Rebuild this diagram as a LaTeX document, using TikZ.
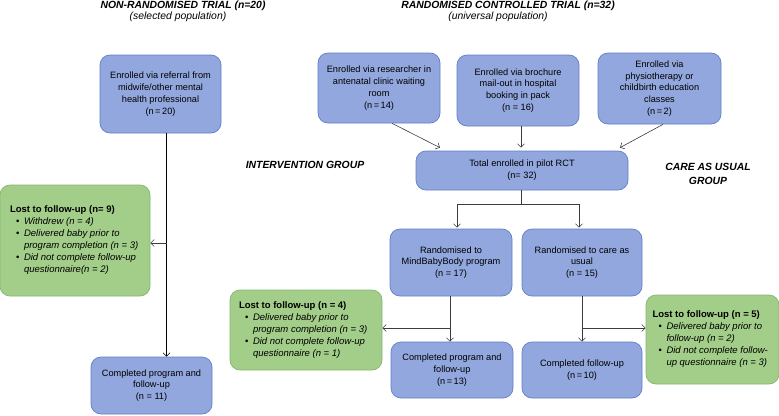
\documentclass[tikz,border=0pt]{standalone}
\usepackage{fontspec}
\setmainfont{Liberation Sans}
\usetikzlibrary{arrows.meta}
\definecolor{bfill}{RGB}{146,167,222}
\definecolor{bdraw}{RGB}{98,126,200}
\definecolor{gfill}{RGB}{163,206,138}
\definecolor{gdraw}{RGB}{132,182,108}
\definecolor{lncol}{RGB}{60,60,60}
\newcommand\blt[1]{\par{\leftskip=14pt\noindent\llap{\textbullet\hspace{4.5pt}}\textit{#1}\par}}
\begin{document}
\begin{tikzpicture}[x=1pt,y=-1pt,
  font=\fontsize{9.2}{11.8}\selectfont,
  bluebox/.style={draw=bdraw, fill=bfill, rounded corners=10pt, align=center, inner sep=0pt, line width=0.7pt},
  greenbox/.style={draw=gdraw, fill=gfill, rounded corners=10pt, inner sep=0pt, line width=0.7pt, font=\fontsize{9.5}{12}\selectfont},
  arr/.style={draw=lncol, line width=0.6pt, -{Straight Barb[length=3.5pt,width=7pt]}},
  ln/.style={draw=lncol, line width=0.6pt},
  ttl/.style={font=\fontsize{10.4}{12}\selectfont\bfseries\itshape, inner sep=0pt},
  sub/.style={font=\fontsize{10.4}{12}\selectfont\itshape, inner sep=0pt}]
\useasboundingbox (0,0) rectangle (779,415);

% titles
\node[ttl] (t1) at (183,5.5) {NON-RANDOMISED TRIAL (n=20)};
\node[sub] (s1) at (178,17) {(selected population)};
\node[ttl] (t2) at (508,5.5) {RANDOMISED CONTROLLED TRIAL (n=32)};
\node[sub] (s2) at (498,17) {(universal population)};
\node[ttl] (ig) at (305,165) {INTERVENTION GROUP};
\node[ttl, align=center, font=\fontsize{10.4}{14}\selectfont\bfseries\itshape] (cg) at (708,174) {CARE AS USUAL\\GROUP};

% non-randomised
\node[bluebox, minimum width=121pt, minimum height=78pt] (nr) at (160.5,94)
  {Enrolled via referral from\\midwife/other mental\\health professional\\(n\,=\,20)};
\node[bluebox, minimum width=121pt, minimum height=57pt] (nc) at (151.5,385.5)
  {Completed program and\\follow-up\\(n = 11)};
\node[greenbox, minimum width=150pt, minimum height=111pt] (l9) at (75,240.5)
  {\parbox{130pt}{\raggedright\textbf{Lost to follow-up (n= 9)}
   \blt{Withdrew (n = 4)}
   \blt{Delivered baby prior to\\program completion (n = 3)}
   \blt{Did not complete follow-up\\questionnaire(n = 2)}}};
\coordinate (v1) at (166.5,0);
\draw[arr, draw=black] (nr.south -| v1) -- (nc.north -| v1);
\coordinate (h9) at (166.5,243);
\draw[arr] (h9) -- (h9 -| l9.east);

% RCT top
\node[bluebox, minimum width=122pt, minimum height=70pt] (r1) at (379,88)
  {Enrolled via researcher in\\antenatal clinic waiting\\room\\(n\,=\,14)};
\node[bluebox, minimum width=122pt, minimum height=71pt] (r2) at (518,90.5)
  {Enrolled via brochure\\mail-out in hospital\\booking in pack\\(n = 16)};
\node[bluebox, minimum width=123pt, minimum height=71pt] (r3) at (659.5,88.5)
  {Enrolled via\\physiotherapy or\\childbirth education\\classes\\(n\,=\,2)};
\node[bluebox, minimum width=212pt, minimum height=39pt] (tot) at (522,170.5)
  {Total enrolled in pilot RCT\\(n= 32)};
\draw[arr] ([xshift=13pt]r1.south) -- ([xshift=-82pt,yshift=3pt]tot.north);
\draw[arr] (r2.south -| 521,0) -- ([xshift=-1pt,yshift=3pt]tot.north);
\draw[arr] ([xshift=3.5pt]r3.south) -- ([xshift=98pt,yshift=3pt]tot.north);

% randomisation
\node[bluebox, minimum width=122pt, minimum height=67pt] (ra) at (451,262.5)
  {Randomised to\\MindBabyBody program\\(n = 17)};
\node[bluebox, minimum width=120pt, minimum height=67pt] (rb) at (582,262.5)
  {Randomised to care as\\usual\\(n = 15)};
\coordinate (sp) at (521,204);
\draw[ln] (tot.south -| sp) -- (sp);
\draw[arr] (sp) -| ([xshift=6pt,yshift=1pt]ra.north);
\draw[arr] (sp) -| ([xshift=-3pt,yshift=1pt]rb.north);

% outcomes
\node[bluebox, minimum width=122pt, minimum height=56pt] (ca) at (452,370)
  {Completed program and\\follow-up\\(n\,=\,13)};
\node[bluebox, minimum width=120pt, minimum height=56pt] (cb) at (582,370)
  {Completed follow-up\\(n\,=\,10)};
\node[greenbox, minimum width=152pt, minimum height=80pt] (l4) at (306,330)
  {\parbox{134pt}{\raggedright\textbf{Lost to follow-up (n = 4)}
   \blt{Delivered baby prior to\\program completion (n = 3)}
   \blt{Did not complete follow-up\\questionnaire (n = 1)}}};
\node[greenbox, minimum width=133pt, minimum height=89pt] (l5) at (712.5,339.5)
  {\parbox{120pt}{\raggedright\textbf{Lost to follow-up (n = 5)}
   \blt{Delivered baby prior to\\follow-up (n = 2)}
   \blt{Did not complete follow-\\up questionnaire (n = 3)}}};
\coordinate (h4) at (450,328);
\draw[arr] (ra.south -| h4) -- (ca.north -| h4);
\draw[arr] (h4) -- (h4 -| l4.east);
\coordinate (h5) at (582,328);
\draw[arr] (rb.south -| h5) -- (cb.north -| h5);
\draw[arr] (h5) -- (h5 -| l5.west);
\end{tikzpicture}
\end{document}
